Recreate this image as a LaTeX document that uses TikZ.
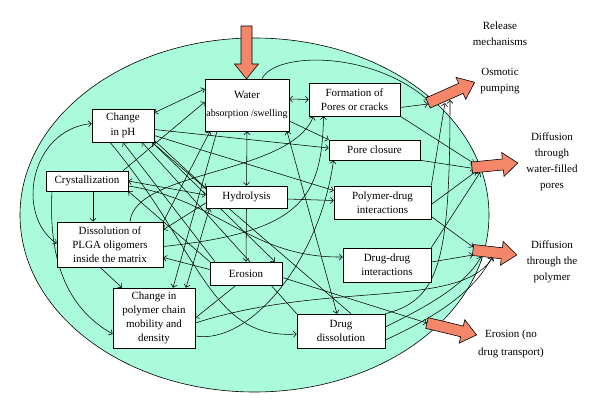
\documentclass[tikz,border=0pt]{standalone}
\usepackage{fontspec}
\setmainfont{Liberation Serif}
\usetikzlibrary{positioning,calc,arrows.meta,backgrounds}
\definecolor{gelgreen}{RGB}{170,250,220}
\definecolor{relorange}{RGB}{244,135,105}
\tikzset{
  box/.style={draw, fill=white, align=center, inner sep=1pt, line width=0.6pt,
    font=\fontsize{11}{14}\selectfont},
  link/.style={->, line width=0.55pt},
  dlink/.style={<->, line width=0.55pt},
  relshape/.style={draw, fill=relorange, line width=0.6pt},
  mechtext/.style={align=center, font=\fontsize{11}{16}\selectfont}
}
% big release arrow: tail point, angle, length
\newcommand{\relarrow}[3]{\draw[relshape, shift={#1}, rotate=#2] (0,5.5) -- ({#3-15},5.5) -- ({#3-15},12) -- (#3,0) -- ({#3-15},-12) -- ({#3-15},-5.5) -- (0,-5.5) -- cycle;}

\begin{document}
\begin{tikzpicture}[x=1pt, y=-1pt, >={Straight Barb[length=3pt,width=6pt]}]
        \useasboundingbox (0,0) rectangle (600,412);

        % Matriz (elipse)
        \begin{scope}[on background layer]
            \draw[fill=gelgreen, line width=0.6pt] (254.5,215) ellipse [x radius=234.5, y radius=177];
        \end{scope}

        % Procesos
        \node[box, minimum width=84, minimum height=52] (water) at (247,105) {Water\\[4pt]{\fontsize{10}{12}\selectfont absorption /swelling}};
        \node[box, minimum width=91, minimum height=33] (pores) at (354.5,99.5) {Formation of\\Pores or cracks};
        \node[box, minimum width=62, minimum height=33, font=\fontsize{11}{15}\selectfont] (ph) at (123,125.5) {Change\\in pH};
        \node[box, minimum width=82, minimum height=20] (cryst) at (87,181) {Crystallization};
        \node[box, minimum width=81, minimum height=22] (hydro) at (246.5,197) {Hydrolysis};
        \node[box, minimum width=91, minimum height=20] (closure) at (374.5,150) {Pore closure};
        \node[box, minimum width=97, minimum height=33] (polydrug) at (382.5,202.5) {Polymer-drug\\interactions};
        \node[box, minimum width=106, minimum height=45] (diss) at (110,244.5) {Dissolution of\\PLGA oligomers\\inside the matrix};
        \node[box, minimum width=72, minimum height=23] (erosion) at (246,273.5) {Erosion};
        \node[box, minimum width=82, minimum height=60] (chain) at (154,318) {Change in\\polymer chain\\mobility and\\density};
        \node[box, minimum width=88, minimum height=34] (drugdrug) at (387,265) {Drug-drug\\interactions};
        \node[box, minimum width=88, minimum height=34] (drugdiss) at (341,331) {Drug\\dissolution};

        % Mecanismos de liberacion
        \coordinate (inlet) at (246.5,26);
        \coordinate (osm) at (428,103);
        \coordinate (wfp) at (472,167.5);
        \coordinate (pol) at (473,250);
        \coordinate (ero) at (427,323);
        \relarrow{(inlet)}{-90}{53}
        \relarrow{(osm)}{24}{51}
        \relarrow{(wfp)}{5.6}{46}
        \relarrow{(pol)}{-6.5}{44}
        \relarrow{(ero)}{-13.5}{51}

        \node[mechtext] (relhead) at (500,34) {Release\\mechanisms};
        \node[mechtext] (osmtext) at (500,81) {Osmotic\\pumping};
        \node[mechtext] (wfptext) at (552,162) {Diffusion\\through\\water-filled\\pores};
        \node[mechtext] (poltext) at (552,262) {Diffusion\\through the\\polymer};
        \node[mechtext, font=\fontsize{11}{18}\selectfont] (erotext) at (511,344) {Erosion (no\\drug transport)};

        % Conexiones
        \begin{scope}[on background layer]
            \draw[dlink] ([yshift=-4]ph.north east) -- ([yshift=16]water.west);
            \draw[dlink] ([yshift=6]water.east) -- (pores.west);
            \draw[dlink] (water.south) -- (hydro.north);
            \draw[link] (hydro.south) -- (erosion.north);
            \draw[link] ([xshift=6]cryst.south) -- ([xshift=-17]diss.north);
            \draw[link] ([xshift=-10]diss.south) -- ([xshift=-32]chain.north);
            \draw[link] ([xshift=-35]cryst.south) .. controls (48,265) and (70,310) .. ([yshift=-16]chain.west);
            \draw[dlink] ([yshift=2]ph.west) .. controls (30,130) and (15,215) .. ([yshift=1]diss.west);
            \draw[link] ([xshift=15]water.north) .. controls (275,52) and (370,50) .. ($(osm)+(0,-3)$);
            \draw[link] ([yshift=-8]pores.east) -- ($(osm)+(0,1)$);
            \draw[link] (pores.south east) -- ($(wfp)+(2,-4)$);
            \draw[link] (closure.south east) -- ($(wfp)+(2,1)$);
            \draw[link] ([yshift=-2]polydrug.east) -- ($(wfp)+(4,4)$);
            \draw[link] ([yshift=-14]polydrug.east) -- ($(pol)+(0,-3)$);
            \draw[link] ([yshift=3]drugdrug.east) -- ($(pol)+(0,5)$);
            \draw[link] (drugdrug.north east) -- ($(wfp)+(8,5)$);
            \draw[link] ([yshift=4]drugdiss.east) .. controls (430,305) and (465,285) .. ($(pol)+(8,7)$);
            \draw[link] ([yshift=-9]drugdiss.east) .. controls (440,315) and (475,290) .. ($(pol)+(19,7)$);
            \draw[link] (drugdiss.north east) .. controls (440,300) and (450,260) .. ($(osm)+(22,-3)$);
            \draw[link] (polydrug.north east) -- ($(osm)+(17,0)$);
            \draw[link] ([yshift=-4]erosion.east) -- (ero);
            \draw[link] ([yshift=-5]chain.east) .. controls (330,280) and (460,310) .. ($(pol)+(20,7)$);
            \draw[link] ([yshift=-18]chain.east) .. controls (250,345) and (320,260) .. ([xshift=-41]closure.south);
            \draw[link] ([yshift=2]ph.south east) -- ([yshift=9]hydro.west);
            \draw[link] ([yshift=-4]ph.east) -- ([yshift=2]closure.west);
            \draw[link] ([yshift=-10]ph.east) -- ([yshift=12]polydrug.west);
            \draw[link] ([yshift=-16]water.east) -- (closure.north west);
            \draw[link] ([yshift=-2]hydro.east) -- ([yshift=2]polydrug.west);
            \draw[dlink] (cryst.east) -- ([yshift=2]hydro.west);
            \draw[link] ([yshift=-6]hydro.west) -- ([yshift=-8]diss.north east);
            \draw[link] ([yshift=4]erosion.west) -- ([yshift=-13]diss.east);
            \draw[link] ([xshift=-10]erosion.south) -- (chain.east);
            \draw[dlink] ([xshift=32]chain.north) -- ([xshift=-37]hydro.south);
            \draw[link] (diss.north east) -- ([xshift=-37]water.south);
            \draw[link] ([xshift=-30]water.south) -- ([xshift=19]chain.north);
            \draw[link] ([xshift=-31]erosion.north) -- (ph.south);
            \draw[link] (erosion.north west) -- (cryst.south east);
            \draw[link] ([xshift=-2]ph.south east) -- ([xshift=29]erosion.north);
            \draw[link] (drugdiss.north west) -- ([xshift=19]ph.south);
            \draw[link] ([xshift=10]drugdiss.north) -- ([xshift=29]ph.south);
            \draw[dlink] ([xshift=40]water.south) -- ([xshift=-4]drugdiss.north);
            \draw[link] ([xshift=36]cryst.north) -- ([yshift=3]water.west);
            \draw[link] ([xshift=20]diss.north) .. controls (135,170) and (290,175) .. ([xshift=-41]pores.south);
            \draw[link] ([yshift=-2]diss.east) .. controls (300,232) and (322,200) .. ([xshift=-31]pores.south);
            \draw[link] ([yshift=-5]cryst.east) .. controls (220,200) and (250,258) .. ([yshift=8]drugdrug.west);
            \draw[link] ([xshift=-13]ph.south) .. controls (200,250) and (210,340) .. ([yshift=-3]drugdiss.west);
        \end{scope}

    \end{tikzpicture}
\end{document}
